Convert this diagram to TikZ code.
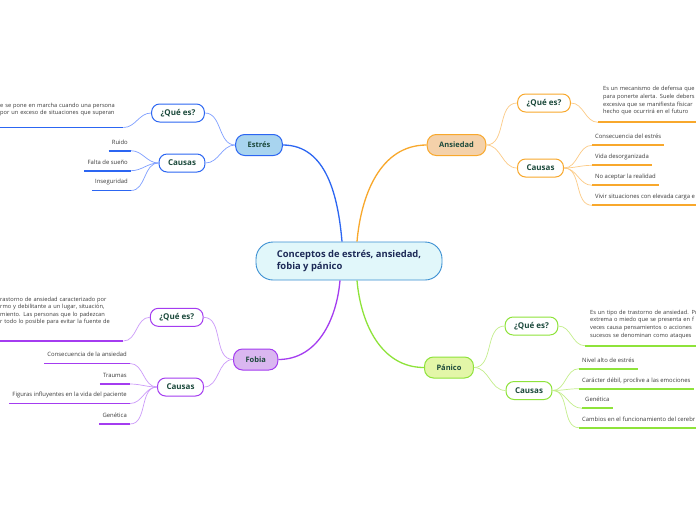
\documentclass[tikz,border=0pt]{standalone}
\usepackage{fontspec}
\setmainfont{Open Sans}
\definecolor{cenline}{HTML}{3A8FD2}
\definecolor{cenfill}{HTML}{E1F7FA}
\definecolor{navy}{HTML}{1D2A57}
\definecolor{deepteal}{HTML}{1C4A3C}
\definecolor{itemgray}{HTML}{3C3C3C}
\definecolor{estmain}{HTML}{2C66F2}
\definecolor{estfill}{HTML}{A8D4EF}
\definecolor{estsoft}{HTML}{7F9FFF}
\definecolor{ansmain}{HTML}{F8A82C}
\definecolor{ansfill}{HTML}{F4D1AA}
\definecolor{anssoft}{HTML}{FCCB86}
\definecolor{panmain}{HTML}{8EE33A}
\definecolor{panfill}{HTML}{E3F6A8}
\definecolor{pansoft}{HTML}{C4EE8C}
\definecolor{fobmain}{HTML}{A43CF0}
\definecolor{fobfill}{HTML}{DAB7F0}
\definecolor{fobsoft}{HTML}{CC9BFA}
\begin{document}
\begin{tikzpicture}[x=1pt, y=-1pt,
          cen/.style={draw=cenline, fill=cenfill, line width=0.9pt, rounded corners=17pt, minimum width=186pt, minimum height=38pt, align=left, text=navy, font=\bfseries\fontsize{9.4}{12.5}\selectfont},
          topic/.style={draw=#1main, fill=#1fill, line width=1pt, rounded corners=9pt, minimum height=21pt, inner xsep=12pt, text=deepteal, font=\bfseries\fontsize{7.5}{9}\selectfont},
          sub/.style={draw=#1main, fill=white, line width=1pt, rounded corners=8pt, minimum height=18pt, inner xsep=9pt, text=deepteal, font=\bfseries\fontsize{8}{9}\selectfont},
          item/.style={text=itemgray, font=\fontsize{5.9}{7.6}\selectfont, inner xsep=3pt, inner ysep=5pt, text depth=1.5pt},
          note/.style={text=itemgray, font=\fontsize{5.7}{7.6}\selectfont, inner xsep=3pt, align=left, text width=#1},
          branch/.style={draw=#1main, line width=1.3pt},
          twig/.style={draw=#1soft, line width=0.7pt},
          uline/.style={draw=#1main, line width=1.9pt}]
        \clip (0,0) rectangle (696,520);
        \fill[white] (0,0) rectangle (696,520);
        \node[cen] (cen) at (349,261) {Conceptos de estrés, ansiedad,\\ fobia y pánico};
        % Estrés
        \node[topic=est] (est) at (259,145) {Estrés};
        \node[sub=est] (estQ) at (178,113) {¿Qué es?};
        \node[sub=est] (estC) at (182,163) {Causas};
        \node[note=120pt, anchor=south west, inner ysep=11pt] (estQt) at (-3,127.5) {e se pone en marcha cuando una persona\\ por un exceso de situaciones que superan};
        \node[item, anchor=south east] (estC1) at (131,150.7) {Ruido};
        \node[item, anchor=south east] (estC2) at (131,170.7) {Falta de sueño};
        \node[item, anchor=south east] (estC3) at (131,190.5) {Inseguridad};
        % Ansiedad
        \node[topic=ans] (ans) at (456.5,145) {Ansiedad};
        \node[sub=ans] (ansQ) at (544,103) {¿Qué es?};
        \node[sub=ans] (ansC) at (540.5,168) {Causas};
        \node[note=150pt, anchor=south west, inner ysep=7pt, inner xsep=5pt] (ansQt) at (598,122.3) {Es un mecanismo de defensa que\\ para ponerte alerta. Suele debers\\ excesiva que se manifiesta físicar\\ hecho que ocurrirá en el futuro};
        \node[item, anchor=south west] (ansC1) at (592,145.3) {Consecuencia del estrés};
        \node[item, anchor=south west] (ansC2) at (592,165.3) {Vida desorganizada};
        \node[item, anchor=south west] (ansC3) at (592,185.3) {No aceptar la realidad};
        \node[item, anchor=south west] (ansC4) at (592,205.3) {Vivir situaciones con elevada carga e};
        % Pánico
        \node[topic=pan] (pan) at (449,367.5) {Pánico};
        \node[sub=pan] (panQ) at (531.5,326) {¿Qué es?};
        \node[sub=pan] (panC) at (529,390.5) {Causas};
        \node[note=150pt, anchor=south west, inner ysep=7pt, inner xsep=5pt] (panQt) at (585,345.7) {Es un tipo de trastorno de ansiedad. Pr\\ extrema o miedo que se presenta en f\\ veces causa pensamientos o acciones\\ sucesos se denominan como ataques};
        \node[item, anchor=south west] (panC1) at (579,368.7) {Nivel alto de estrés};
        \node[item, anchor=south west] (panC2) at (579,388.7) {Carácter débil, proclive a las emociones};
        \node[item, anchor=south west] (panC3) at (582,408.3) {Genética};
        \node[item, anchor=south west] (panC4) at (579,427.7) {Cambios en el funcionamiento del cerebr};
        % Fobia
        \node[topic=fob] (fob) at (255.7,359.5) {Fobia};
        \node[sub=fob] (fobQ) at (176.7,317.3) {¿Qué es?};
        \node[sub=fob] (fobC) at (180.5,387) {Causas};
        \node[note=120pt, anchor=south west, inner ysep=15.5pt] (fobQt) at (-3,341) {rastorno de ansiedad caracterizado por\\ rmo y debilitante a un lugar, situación,\\ miento. Las personas que lo padezcan\\ r todo lo posible para evitar la fuente de};
        \node[item, anchor=south east] (fobC1) at (130,363.5) {Consecuencia de la ansiedad};
        \node[item, anchor=south east] (fobC2) at (130,384) {Traumas};
        \node[item, anchor=south east] (fobC3) at (130,403.5) {Figuras influyentes en la vida del paciente};
        \node[item, anchor=south east] (fobC4) at (130,424) {Genética};
        % main branches
        \draw[branch=est] (est.east) to[out=0,in=95] ([xshift=-7pt]cen.north);
        \draw[branch=ans] (ans.west) to[out=180,in=85] ([xshift=8pt]cen.north);
        \draw[branch=pan] (pan.west) to[out=180,in=-85] ([xshift=8pt]cen.south);
        \draw[branch=fob] (fob.east) to[out=0,in=-95] ([xshift=-9pt]cen.south);
        % Estrés twigs
        \draw[twig=est] (est.west) to[out=180,in=0] (estQ.east);
        \draw[twig=est] (est.west) to[out=180,in=0] (estC.east);
        \draw[twig=est] (estQ.west) to[out=180,in=0] (estQt.south east);
        \draw[twig=est] (estC.west) to[out=180,in=0] (estC1.south east);
        \draw[twig=est] (estC.west) to[out=180,in=0] (estC2.south east);
        \draw[twig=est] (estC.west) to[out=180,in=0] (estC3.south east);
        \draw[uline=est] (estQt.south west) -- (estQt.south east);
        \draw[uline=est] (estC1.south west) -- (estC1.south east);
        \draw[uline=est] (estC2.south west) -- (estC2.south east);
        \draw[uline=est] (estC3.south west) -- (estC3.south east);
        % Ansiedad twigs
        \draw[twig=ans] (ans.east) to[out=0,in=180] (ansQ.west);
        \draw[twig=ans] (ans.east) to[out=0,in=180] (ansC.west);
        \draw[twig=ans] (ansQ.east) to[out=0,in=180] (ansQt.south west);
        \draw[twig=ans] (ansC.east) to[out=0,in=180] (ansC1.south west);
        \draw[twig=ans] (ansC.east) to[out=0,in=180] (ansC2.south west);
        \draw[twig=ans] (ansC.east) to[out=0,in=180] (ansC3.south west);
        \draw[twig=ans] (ansC.east) to[out=0,in=180] (ansC4.south west);
        \draw[uline=ans] (ansQt.south west) -- (ansQt.south east);
        \draw[uline=ans] (ansC1.south west) -- (ansC1.south east);
        \draw[uline=ans] (ansC2.south west) -- (ansC2.south east);
        \draw[uline=ans] (ansC3.south west) -- (ansC3.south east);
        \draw[uline=ans] (ansC4.south west) -- (ansC4.south east);
        % Pánico twigs
        \draw[twig=pan] (pan.east) to[out=0,in=180] (panQ.west);
        \draw[twig=pan] (pan.east) to[out=0,in=180] (panC.west);
        \draw[twig=pan] (panQ.east) to[out=0,in=180] (panQt.south west);
        \draw[twig=pan] (panC.east) to[out=0,in=180] (panC1.south west);
        \draw[twig=pan] (panC.east) to[out=0,in=180] (panC2.south west);
        \draw[twig=pan] (panC.east) to[out=0,in=180] (panC3.south west);
        \draw[twig=pan] (panC.east) to[out=0,in=180] (panC4.south west);
        \draw[uline=pan] (panQt.south west) -- (panQt.south east);
        \draw[uline=pan] (panC1.south west) -- (panC1.south east);
        \draw[uline=pan] (panC2.south west) -- (panC2.south east);
        \draw[uline=pan] (panC3.south west) -- (panC3.south east);
        \draw[uline=pan] (panC4.south west) -- (panC4.south east);
        % Fobia twigs
        \draw[twig=fob] (fob.west) to[out=180,in=0] (fobQ.east);
        \draw[twig=fob] (fob.west) to[out=180,in=0] (fobC.east);
        \draw[twig=fob] (fobQ.west) to[out=180,in=0] (fobQt.south east);
        \draw[twig=fob] (fobC.west) to[out=180,in=0] (fobC1.south east);
        \draw[twig=fob] (fobC.west) to[out=180,in=0] (fobC2.south east);
        \draw[twig=fob] (fobC.west) to[out=180,in=0] (fobC3.south east);
        \draw[twig=fob] (fobC.west) to[out=180,in=0] (fobC4.south east);
        \draw[uline=fob] (fobQt.south west) -- (fobQt.south east);
        \draw[uline=fob] (fobC1.south west) -- (fobC1.south east);
        \draw[uline=fob] (fobC2.south west) -- (fobC2.south east);
        \draw[uline=fob] (fobC3.south west) -- (fobC3.south east);
        \draw[uline=fob] (fobC4.south west) -- (fobC4.south east);
      \end{tikzpicture}
\end{document}
